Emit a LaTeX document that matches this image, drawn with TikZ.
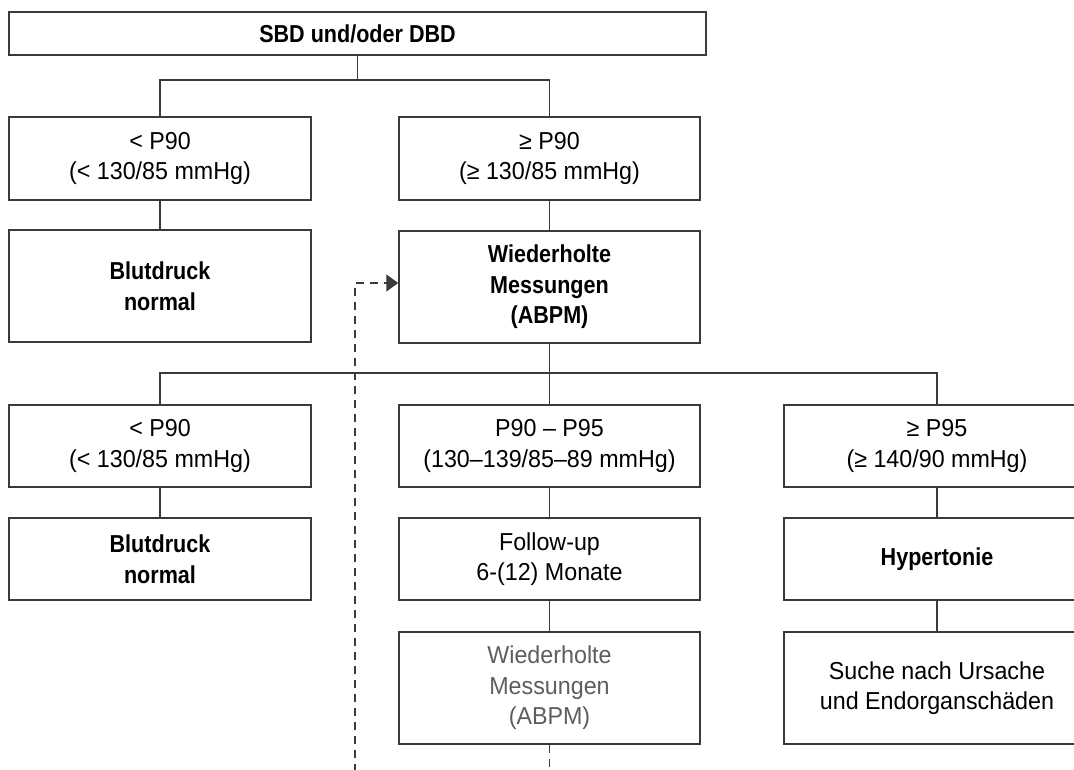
\documentclass[tikz,border=0pt]{standalone}
\usepackage{fontspec}
\setmainfont{Liberation Sans}[FakeStretch=0.95, BoldFeatures={FakeStretch=0.88}]
\usetikzlibrary{arrows.meta}
\definecolor{lc}{HTML}{3A3A3A}
\definecolor{gt}{HTML}{5E5E5E}
\begin{document}
\begin{tikzpicture}[x=1pt,y=-1pt,
  box/.style={draw=lc, line width=1.5pt, align=center, inner sep=0pt, font=\fontsize{24.5}{30.5}\selectfont, text=black},
  wl/.style={minimum width=302pt},
  wm/.style={minimum width=301pt},
  wr/.style={minimum width=306pt},
  conn/.style={draw=lc, line width=1.5pt},
  dconn/.style={draw=lc, line width=1.5pt, dash pattern=on 8pt off 6pt}]
\useasboundingbox (0,0) rectangle (1074,770);
\clip (0,0) rectangle (1074,770);
\fill[white] (0,0) rectangle (1074,770);

\node[box, minimum width=697pt, minimum height=43pt] (top) at (357.5,33.5) {\textbf{SBD und/oder DBD}};

\node[box, wl, minimum height=83pt] (L1) at (160,158.5) {< P90\\(< 130/85 mmHg)};
\node[box, wm, minimum height=83pt] (R1) at (549.5,158.5) {≥ P90\\(≥ 130/85 mmHg)};

\node[box, wl, minimum height=112pt] (L2) at (160,286) {\textbf{Blutdruck}\\\textbf{normal}};
\node[box, wm, minimum height=112pt] (R2) at (549.5,287) {\textbf{Wiederholte}\\\textbf{Messungen}\\\textbf{(ABPM)}};

\node[box, wl, minimum height=82pt] (L3) at (160,446) {< P90\\(< 130/85 mmHg)};
\node[box, wm, minimum height=82pt] (M3) at (549.5,446) {P90 – P95\\(130–139/85–89 mmHg)};
\node[box, wr, minimum height=82pt] (R3) at (937,446) {≥ P95\\(≥ 140/90 mmHg)};

\node[box, wl, minimum height=82pt] (L4) at (160,559) {\textbf{Blutdruck}\\\textbf{normal}};
\node[box, wm, minimum height=82pt] (M4) at (549.5,559) {Follow-up\\6-(12) Monate};
\node[box, wr, minimum height=82pt] (R4) at (937,559) {\textbf{Hypertonie}};

\node[box, wm, minimum height=112pt, text=gt] (M5) at (549.5,688) {Wiederholte\\Messungen\\(ABPM)};
\node[box, wr, minimum height=112pt] (R5) at (937,688) {Suche nach Ursache\\und Endorganschäden};

\coordinate (j1) at (357.5,80);
\coordinate (j2) at (549.5,373);
\coordinate (d1) at (549.5,772);
\coordinate (d2) at (355,772);

\draw[conn] (top.south) -- (j1);
\draw[conn] (L1.north) |- (j1) -| (R1.north);
\draw[conn] (L1) -- (L2);
\draw[conn] (R1) -- (R2);
\draw[conn] (R2.south) -- (j2);
\draw[conn] (L3.north) |- (j2) -| (R3.north);
\draw[conn] (j2) -- (M3.north);
\draw[conn] (L3) -- (L4);
\draw[conn] (M3) -- (M4);
\draw[conn] (R3) -- (R4);
\draw[conn] (M4) -- (M5);
\draw[conn] (R4) -- (R5);

\draw[dconn] (M5.south) -- (d1);
\draw[dconn, -{Triangle[length=12pt,width=17pt]}] (d2) |- ([yshift=4pt]R2.west);
\end{tikzpicture}
\end{document}
